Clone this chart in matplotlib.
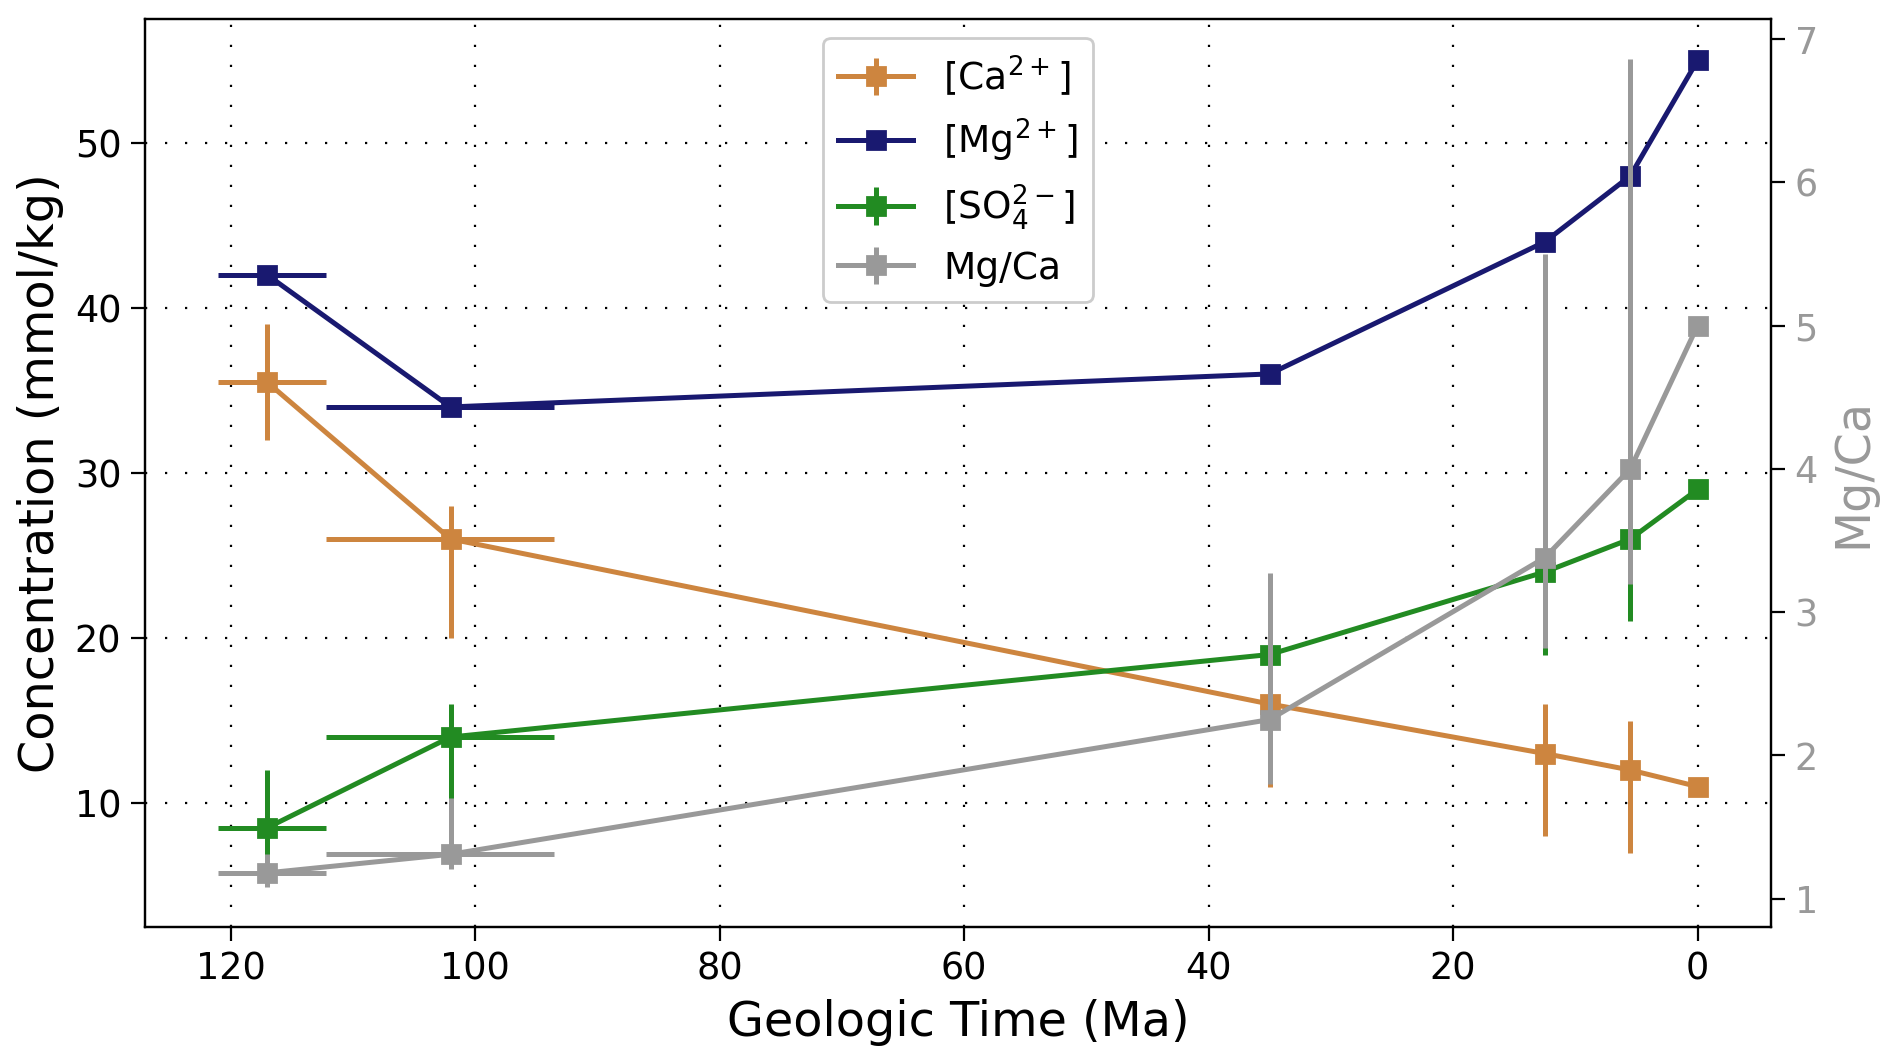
import numpy as np
import matplotlib
matplotlib.use("Agg")
import matplotlib.pyplot as plt

# ages (Ma) and age ranges
age = [117, 102, 35, 12.5, 5.5, 0]
age_young = [112.2, 93.5, 35, 12.5, 5.5, 0]
age_old = [121.0, 112.2, 35, 12.5, 5.5, 0]

# concentrations (mmol/kg)
ca = [35.5, 26, 16, 13, 12, 11]
ca_lo = [32, 20, 11, 8, 7, 11]
ca_hi = [39, 28, 20, 16, 15, 11]

mg = [42, 34, 36, 44, 48, 55]

so4 = [8.5, 14, 19, 24, 26, 29]
so4_lo = [5, 8, 14, 19, 21, 29]
so4_hi = [12, 16, 23, 27, 29, 29]

# Mg/Ca ratio (right axis)
mgca = [1.18, 1.31, 2.25, 3.38, 4.0, 5.0]
mgca_lo = [1.08, 1.21, 1.8, 2.75, 3.2, 5.0]
mgca_hi = [1.31, 1.7, 3.27, 5.5, 6.86, 5.0]

GRAY = "#999999"


def yerr_of(v, lo, hi):
    v = np.asarray(v, float)
    return [v - np.asarray(lo, float), np.asarray(hi, float) - v]


x = np.asarray(age, float)
xerr = [x - np.asarray(age_young, float), np.asarray(age_old, float) - x]

plt.rcParams["font.family"] = "DejaVu Sans"

fig = plt.figure(figsize=(9.46, 5.305), dpi=200)
ax = fig.add_axes([0.0766, 0.126, 0.8594, 0.856])
ax2 = ax.twinx()

kw = dict(fmt="-s", lw=1.8, elinewidth=1.8, ms=6.2, capsize=0)

h_ca = ax.errorbar(x, ca, xerr=xerr, yerr=yerr_of(ca, ca_lo, ca_hi),
                   color="peru", label="[Ca$^{2+}$]", **kw)
h_mg = ax.errorbar(x, mg, xerr=xerr, color="midnightblue",
                   label="[Mg$^{2+}$]", **kw)
h_so4 = ax.errorbar(x, so4, xerr=xerr, yerr=yerr_of(so4, so4_lo, so4_hi),
                    color="forestgreen", label="[SO$_4^{2-}$]", **kw)
h_r = ax2.errorbar(x, mgca, xerr=xerr, yerr=yerr_of(mgca, mgca_lo, mgca_hi),
                   color=GRAY, label="Mg/Ca", **kw)

ax.set_xlim(127, -6)
ax.set_ylim(2.47, 57.5)
ax2.set_ylim(0.8, 7.14)

ax.set_xticks([120, 100, 80, 60, 40, 20, 0])
ax.set_yticks([10, 20, 30, 40, 50])
ax2.set_yticks([1, 2, 3, 4, 5, 6, 7])

ax.grid(True, color="black", lw=0.8, ls=(0, (1, 8)))

ax.tick_params(labelsize=13.2, length=5)
ax2.tick_params(labelsize=13.2, length=5, labelcolor=GRAY)

ax.set_xlabel("Geologic Time (Ma)", fontsize=17.2)
ax.set_ylabel("Concentration (mmol/kg)", fontsize=17.2)
ax2.set_ylabel("Mg/Ca", fontsize=17.2, color=GRAY)

leg = ax2.legend([h_ca, h_mg, h_so4, h_r],
                 ["[Ca$^{2+}$]", "[Mg$^{2+}$]", "[SO$_4^{2-}$]", "Mg/Ca"],
                 loc="upper center", fontsize=13.5, framealpha=1)

fig.savefig("out.png", dpi=200)
